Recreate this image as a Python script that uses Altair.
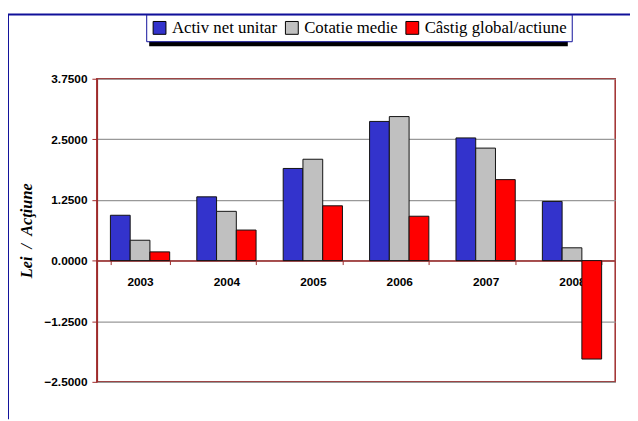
import altair as alt
import pandas as pd

years = ["2003", "2004", "2005", "2006", "2007", "2008"]
series = ["Activ net unitar", "Cotatie medie", "Câstig global/actiune"]
activ = [0.935, 1.315, 1.90, 2.87, 2.53, 1.22]
cotatie = [0.42, 1.016, 2.09, 2.97, 2.32, 0.264]
castig = [0.18, 0.63, 1.13, 0.915, 1.67, -2.03]
colors = ["#3333CC", "#C0C0C0", "#FF0000"]
y_ticks = [-2.5, -1.25, 0.0, 1.25, 2.5, 3.75]

rows = []
for i, yr in enumerate(years):
    for s, vals in zip(series, [activ, cotatie, castig]):
        rows.append({"year": yr, "series": s, "value": vals[i]})
df = pd.DataFrame(rows)

W, H = 525, 307
ymin, ymax = y_ticks[0], y_ticks[-1]
zero_offset = -H * (0 - ymin) / (ymax - ymin)

DARKRED = "#9E2A2A"
NAVY = "#10109A"

bars = alt.Chart(df).mark_bar(stroke="#111111", strokeWidth=1).encode(
    x=alt.X("year:N", sort=years,
            scale=alt.Scale(paddingInner=0.314, paddingOuter=0.157),
            axis=alt.Axis(title=None, labelAngle=0, offset=zero_offset,
                          tickBand="extent", tickSize=4, tickColor=DARKRED,
                          domainColor=DARKRED, domainWidth=1.5,
                          labelFont="Liberation Sans", labelFontWeight="bold",
                          labelFontSize=12, labelColor="black", labelPadding=12,
                          grid=False)),
    xOffset=alt.XOffset("series:N", sort=series,
                        scale=alt.Scale(domain=series, paddingInner=0, paddingOuter=0)),
    y=alt.Y("value:Q",
            scale=alt.Scale(domain=[ymin, ymax], nice=False, zero=False),
            axis=alt.Axis(title="Lei\u00a0\u00a0/\u00a0\u00a0Acţiune", values=y_ticks,
                          format=".4f", tickSize=5, tickColor=DARKRED,
                          domainColor=DARKRED, domainWidth=1.5,
                          labelFont="Liberation Sans", labelFontWeight="bold",
                          labelFontSize=12, labelColor="black", labelPadding=5,
                          grid=True, gridColor="#999999", gridWidth=1.2,
                          titleFont="Liberation Serif", titleFontStyle="italic",
                          titleFontWeight="bold", titleFontSize=16.5,
                          titleColor="black", titlePadding=9)),
    color=alt.Color("series:N", sort=series,
                    scale=alt.Scale(domain=series, range=colors),
                    legend=alt.Legend(title=None, orient="none",
                                      legendX=50, legendY=-65,
                                      direction="horizontal",
                                      fillColor="white", strokeColor=NAVY,
                                      padding=5, symbolType="square",
                                      symbolSize=169, symbolStrokeColor="black",
                                      symbolStrokeWidth=1, symbolOpacity=1,
                                      labelFont="Liberation Serif",
                                      labelFontSize=17, labelColor="black",
                                      labelOffset=4, columnPadding=6,
                                      labelLimit=300)),
)

one = pd.DataFrame({"a": [0]})
shadow = alt.Chart(one).mark_rect(color="black").encode(
    x=alt.value(53), x2=alt.value(53 + 424),
    y=alt.value(-62), y2=alt.value(-62 + 29),
)
frame_top = alt.Chart(one).mark_rule(color=NAVY, strokeWidth=2).encode(
    x=alt.value(-90), x2=alt.value(540), y=alt.value(-65)
)
frame_left = alt.Chart(one).mark_rule(color=NAVY, strokeWidth=2).encode(
    x=alt.value(-90), y=alt.value(-65), y2=alt.value(345)
)

chart = alt.layer(frame_top, frame_left, shadow, bars).properties(
    width=W, height=H,
    autosize=alt.AutoSizeParams(type="none"),
    padding={"left": 90, "top": 69, "right": 15, "bottom": 37},
    background="white",
).configure_view(stroke=DARKRED, strokeWidth=1.5)

chart.save("out.html", embed_options={"renderer": "svg", "actions": False})
